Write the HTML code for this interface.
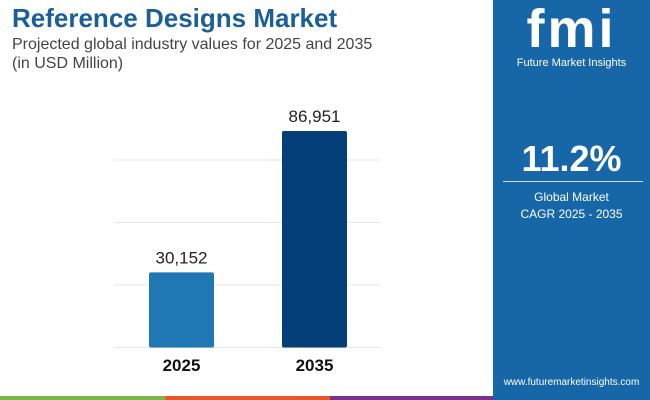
<!DOCTYPE html>
<html><head><meta charset="utf-8"><style>
body{margin:0;width:650px;height:400px;position:relative;overflow:hidden;background:#fff;font-family:"Liberation Sans",sans-serif}
.abs{position:absolute}
</style></head><body>
<div class="abs" style="left:12px;top:3px;font-size:26px;font-weight:bold;color:#1b5f99">Reference Designs Market</div>
<div class="abs" style="left:12px;top:35px;font-size:16px;color:#444;line-height:19px">Projected global industry values for 2025 and 2035<br>(in USD Million)</div>
<svg class="abs" style="left:0;top:0" width="490" height="400">
<g id="g"></g>
</svg>
<div class="abs" style="left:493px;top:0;width:157px;height:400px;background:#1767a8">
 <div class="abs" style="left:0;width:157px;top:-2px;text-align:center;color:#fff;font-size:54px;font-weight:bold;letter-spacing:3px">fmi</div>
 <div class="abs" style="left:0;width:157px;top:57px;text-align:center;color:#fff;font-size:11px">Future Market Insights</div>
 <div class="abs" style="left:0;width:157px;top:138px;text-align:center;color:#fff;font-size:36px;font-weight:bold">11.2%</div>
 <div class="abs" style="left:10px;top:181px;width:140px;height:1px;background:#cfe0f0"></div>
 <div class="abs" style="left:0;width:157px;top:189px;text-align:center;color:#fff;font-size:12px;line-height:17px">Global Market<br>CAGR 2025 - 2035</div>
 <div class="abs" style="left:0;width:157px;top:377px;text-align:center;color:#fff;font-size:10px">www.futuremarketinsights.com</div>
</div>
<div class="abs" style="left:0;top:396px;width:165px;height:4px;background:#7ab648"></div>
<div class="abs" style="left:165px;top:396px;width:165px;height:4px;background:#e8572a"></div>
<div class="abs" style="left:330px;top:396px;width:163px;height:4px;background:#7b2f8e"></div>
<script>
const categories=["2025","2035"];
const values=[30152,86951];
const labels=["30,152","86,951"];
const colors=["#1f77b4","#053f7a"];
const ns="http://www.w3.org/2000/svg",g=document.getElementById('g');
const base=347.5,top0=131,maxV=86951;
const y=v=>base-v*(base-top0)/maxV;
const x=i=>149+i*133;
[160,222.5,285,347.5].forEach(gy=>{const l=document.createElementNS(ns,'line');
l.setAttribute('x1',114);l.setAttribute('x2',380);l.setAttribute('y1',gy);l.setAttribute('y2',gy);l.setAttribute('stroke','#e6e6e6');

g.appendChild(l);});
categories.forEach((c,i)=>{
const r=document.createElementNS(ns,'rect');r.setAttribute('x',x(i));r.setAttribute('width',65);r.setAttribute('y',y(values[i]));r.setAttribute('height',base-y(values[i]));r.setAttribute('rx',2);r.setAttribute('fill',colors[i]);

g.appendChild(r);
const t=document.createElementNS(ns,'text');t.setAttribute('x',x(i)+32.5);t.setAttribute('y',y(values[i])-9);t.setAttribute('text-anchor','middle');t.setAttribute('font-size',17);t.setAttribute('fill','#222');t.textContent=labels[i];

g.appendChild(t);
const a=document.createElementNS(ns,'text');a.setAttribute('x',x(i)+32.5);a.setAttribute('y',371);a.setAttribute('text-anchor','middle');a.setAttribute('font-size',17);a.setAttribute('font-weight','bold');a.setAttribute('fill','#111');a.textContent=c;

g.appendChild(a);
});
</script>
</body></html>
